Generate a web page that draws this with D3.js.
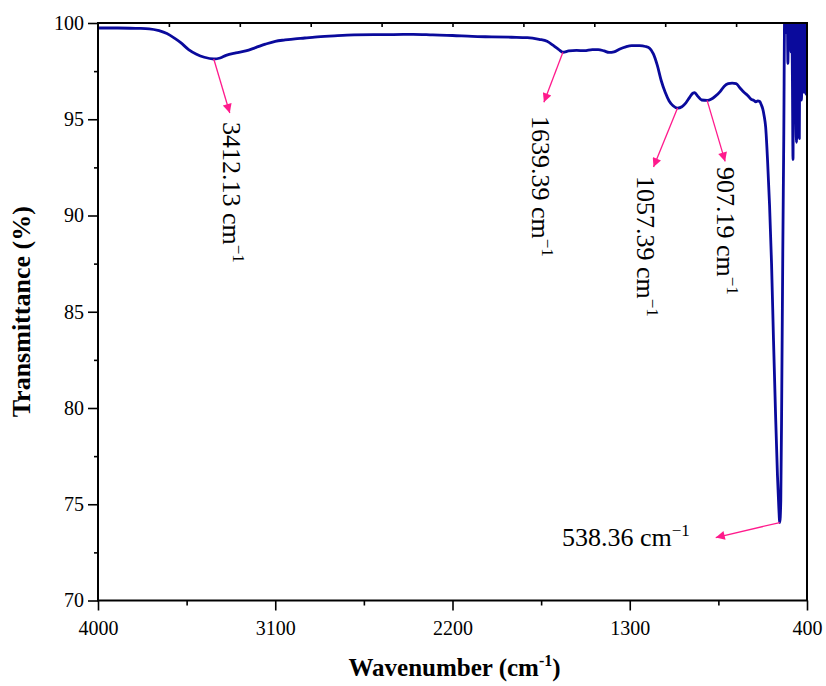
<!DOCTYPE html>
<html>
<head>
<meta charset="utf-8">
<script src="https://cdn.jsdelivr.net/npm/d3@7"></script>
<style>
  html, body { margin: 0; padding: 0; background: #fff; }
  svg { display: block; font-family: "Liberation Serif", "Times New Roman", serif; }
</style>
</head>
<body>
<div id="chart"></div>
<script>
// FTIR spectrum: wavenumber (cm-1) vs transmittance (%)
const wavenumbers = [
    4000, 3900, 3800, 3740, 3690, 3650, 3610, 3580, 3540, 3500, 3460, 3412.13, 3380, 3350, 3300, 3250,
    3200, 3150, 3100, 3050, 3000, 2950, 2900, 2800, 2700, 2600, 2500, 2400, 2300, 2200, 2100, 2000,
    1900, 1820, 1760, 1720, 1690, 1660, 1639.39, 1610, 1570, 1530, 1490, 1460, 1430, 1405, 1380, 1350,
    1320, 1290, 1250, 1220, 1200, 1180, 1160, 1140, 1120, 1100, 1080, 1057.39, 1035, 1015, 995, 980,
    970, 955, 935, 907.19, 885, 865, 840, 820, 800, 780, 760, 740, 720, 700, 685, 670,
    660, 650, 640, 632, 625, 618, 610, 600, 590, 580, 570, 560, 550, 543, 538.36, 533,
    528, 523, 518, 513, 505, 500, 497, 494, 490, 486, 482, 478, 474, 471, 468, 464,
    460, 456, 453, 450, 446, 443, 439, 436, 432, 428, 424, 420, 416, 412, 408, 405, 402, 400
];
const transmittance = [
    99.74, 99.74, 99.72, 99.70, 99.60, 99.45, 99.20, 98.98, 98.62, 98.38, 98.22, 98.13, 98.18, 98.32, 98.45, 98.55,
    98.72, 98.90, 99.05, 99.12, 99.18, 99.22, 99.27, 99.33, 99.38, 99.40, 99.40, 99.41, 99.38, 99.35, 99.30, 99.28,
    99.26, 99.24, 99.15, 99.05, 98.85, 98.62, 98.48, 98.55, 98.58, 98.56, 98.62, 98.62, 98.55, 98.47, 98.50, 98.65,
    98.76, 98.82, 98.82, 98.78, 98.70, 98.40, 97.80, 97.00, 96.40, 95.95, 95.70, 95.58, 95.65, 95.85, 96.15, 96.35,
    96.38, 96.20, 96.00, 95.98, 96.05, 96.20, 96.45, 96.72, 96.85, 96.88, 96.85, 96.62, 96.40, 96.22, 96.05, 95.98,
    95.90, 95.95, 95.92, 95.75, 95.55, 95.20, 94.60, 92.80, 90.50, 87.50, 83.50, 79.80, 76.50, 74.80, 74.05, 75.20,
    81.00, 88.00, 94.00, 100.8, 99.5, 100.6, 97.9, 100.5, 99.2, 100.4, 98.5, 100.6, 97.0, 92.9, 100.3, 96.5,
    100.5, 95.0, 93.8, 100.2, 94.3, 100.4, 94.0, 99.8, 100.5, 96.0, 100.4, 98.5, 96.4, 100.5, 99.0, 96.3, 100.3, 100.5
];

// labelled peaks
const peakWavenumbers = [3412.13, 1639.39, 1057.39, 907.19, 538.36];
const peakTransmittance = [98.13, 98.48, 95.58, 95.98, 74.05];
const peakLabels = ["3412.13 cm", "1639.39 cm", "1057.39 cm", "907.19 cm", "538.36 cm"];

// axis ticks
const xMajorTicks = [4000, 3100, 2200, 1300, 400];
const xMinorTicks = [3550, 2650, 1750, 850];
const xTopTicks = [3640, 3280, 2920, 2560, 2200, 1840, 1480, 1120, 760];
const yMajorTicks = [70, 75, 80, 85, 90, 95, 100];
const yMinorTicks = [72.5, 77.5, 82.5, 87.5, 92.5, 97.5];

(() => {
    const W = 826, H = 686;
    const m = { left: 98, right: 19, top: 23, bottom: 85.5 };
    const lineColor = "#0a0a9c";
    const arrowColor = "#ff1a8c";

    const svg = d3.select("#chart").append("svg").attr("width", W).attr("height", H);

    const x = d3.scaleLinear().domain([4000, 400]).range([m.left, W - m.right]);
    const y = d3.scaleLinear().domain([70, 100]).range([H - m.bottom, m.top]);

    svg.append("defs").call(defs => {
        defs.append("clipPath").attr("id", "plot-clip")
            .append("rect").attr("x", m.left).attr("y", m.top)
            .attr("width", x.range()[1] - m.left).attr("height", y(70) - m.top);
        defs.append("marker").attr("id", "arrowhead")
            .attr("viewBox", "0 0 10 10").attr("refX", 10).attr("refY", 5)
            .attr("markerUnits", "userSpaceOnUse")
            .attr("markerWidth", 12).attr("markerHeight", 9).attr("orient", "auto")
            .append("path").attr("d", "M0,0 L10,5 L0,10 Z").attr("fill", arrowColor);
    });

    // spectrum
    const pts = wavenumbers.map((w, i) => [w, transmittance[i]]);
    const line = d3.line().x(d => x(d[0])).y(d => y(d[1])).curve(d3.curveMonotoneX);
    svg.append("path").datum(pts)
        .attr("clip-path", "url(#plot-clip)")
        .attr("d", line)
        .attr("fill", "none").attr("stroke", lineColor)
        .attr("stroke-width", 2.8).attr("stroke-linejoin", "round");

    // axes
    const styleAxis = g => {
        g.select(".domain").remove();
        g.selectAll(".tick line").attr("stroke", "#000").attr("stroke-width", 1.6);
        g.selectAll("text").attr("font-family", "Liberation Serif").attr("font-size", 20).attr("fill", "#000");
    };
    const yb = y(70);
    svg.append("g").attr("transform", `translate(0,${yb})`)
        .call(d3.axisBottom(x).tickValues(xMajorTicks).tickSize(10).tickPadding(10).tickFormat(d3.format("d")))
        .call(styleAxis);
    svg.append("g").attr("transform", `translate(0,${yb})`)
        .call(d3.axisBottom(x).tickValues(xMinorTicks).tickSize(5).tickFormat(""))
        .call(styleAxis);
    svg.append("g").attr("transform", `translate(0,${m.top})`)
        .call(d3.axisTop(x).tickValues(xTopTicks).tickSize(-4).tickFormat(""))
        .call(styleAxis);
    svg.append("g").attr("transform", `translate(${m.left},0)`)
        .call(d3.axisLeft(y).tickValues(yMajorTicks).tickSize(10).tickPadding(4).tickFormat(d3.format("d")))
        .call(styleAxis);
    svg.append("g").attr("transform", `translate(${m.left},0)`)
        .call(d3.axisLeft(y).tickValues(yMinorTicks).tickSize(4).tickFormat(""))
        .call(styleAxis);

    // frame
    svg.append("rect").attr("x", m.left).attr("y", m.top)
        .attr("width", x.range()[1] - m.left).attr("height", yb - m.top)
        .attr("fill", "none").attr("stroke", "#000").attr("stroke-width", 2);

    // axis titles
    const xt = svg.append("text").attr("x", (m.left + x.range()[1]) / 2 + 2).attr("y", 676)
        .attr("text-anchor", "middle").attr("font-size", 25).attr("font-weight", "bold");
    xt.append("tspan").text("Wavenumber (cm");
    xt.append("tspan").attr("dy", -10).attr("font-size", 16).text("-1");
    xt.append("tspan").attr("dy", 10).text(")");

    svg.append("text").attr("transform", `translate(30,${(m.top + yb) / 2}) rotate(-90)`)
        .attr("text-anchor", "middle").attr("font-size", 26).attr("font-weight", "bold")
        .text("Transmittance (%)");

    // peak annotations: arrow offset from peak, label anchor, rotation
    const layout = [
        { dx: 16, dy: 54, tx: 223, ty: 122, rot: 90 },
        { dx: -19, dy: 50, tx: 532, ty: 116, rot: 90 },
        { dx: -24, dy: 59, tx: 637, ty: 176, rot: 90 },
        { dx: 18, dy: 61, tx: 717, ty: 167, rot: 90 },
        { dx: -64, dy: 15, tx: 562, ty: 546, rot: 0 }
    ];
    peakWavenumbers.forEach((w, i) => {
        const px = x(w), py = y(peakTransmittance[i]), L = layout[i];
        svg.append("line")
            .attr("x1", px).attr("y1", py).attr("x2", px + L.dx).attr("y2", py + L.dy)
            .attr("stroke", arrowColor).attr("stroke-width", 1.3)
            .attr("marker-end", "url(#arrowhead)");
        const t = svg.append("text")
            .attr("transform", `translate(${L.tx},${L.ty}) rotate(${L.rot})`)
            .attr("font-size", 26).attr("fill", "#000");
        t.append("tspan").text(peakLabels[i]);
        t.append("tspan").attr("dy", -10).attr("font-size", 17).text("\u22121");
    });
})();
</script>
</body>
</html>
